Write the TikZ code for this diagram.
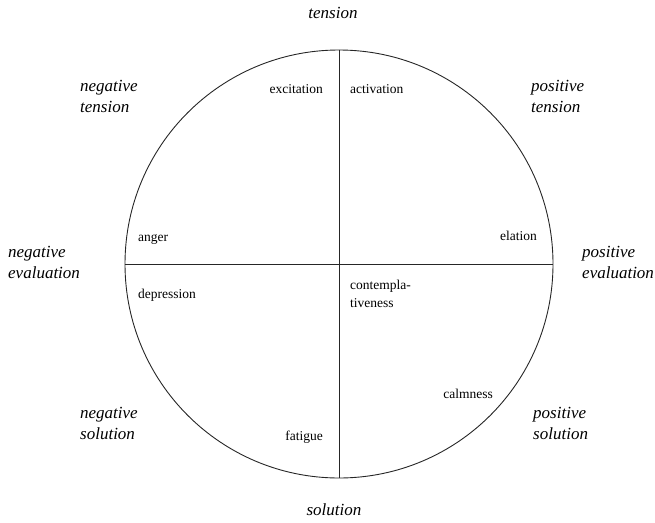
\documentclass[tikz,border=0pt]{standalone}
\usepackage{fontspec}
\setmainfont{Liberation Serif}
\usetikzlibrary{positioning}

\begin{document}
\begin{tikzpicture}[
  x=1pt, y=-1pt,
  wheel/.style  ={circle, draw=black!85, line width=0.9pt, minimum size=428pt, inner sep=0pt},
  axis/.style   ={draw=black!85, line width=0.9pt},
  pole/.style   ={font=\fontsize{17}{21}\selectfont\itshape, align=left, inner sep=0pt},
  mood/.style   ={font=\fontsize{13.5}{18}\selectfont, align=left, inner sep=0pt, text height=9.5pt, text depth=3pt}
]
\useasboundingbox (0,0) rectangle (655,522);

% ---- circle and axes ----
\node[wheel] (wheel) at (339,264) {};
\draw[axis] (wheel.north) -- (wheel.south);
\draw[axis] (wheel.west)  -- (wheel.east);

% ---- poles (outside) ----
\node[pole] (ten)  at (333,13)  {tension};
\node[pole] (sol)  at (334,510) {solution};
\node[pole, anchor=west] (negten) at (80,96)   {negative\\tension};
\node[pole, anchor=west] (posten) at (531,96)  {positive\\tension};
\node[pole, anchor=west] (negev)  at (8,262)   {negative\\evaluation};
\node[pole, anchor=west] (posev)  at (582,262) {positive\\evaluation};
\node[pole, anchor=west] (negsol) at (80,423)  {negative\\solution};
\node[pole, anchor=west] (possol) at (533,423) {positive\\solution};

% ---- moods (inside) ----
\node[mood, anchor=east] (exc)   at (323,90)  {excitation};
\node[mood, anchor=west] (act)   at (350,90)  {activation};
\node[mood, anchor=west] (ang)   at (138,238) {anger};
\node[mood, anchor=east] (ela)   at (537,237) {elation};
\node[mood, anchor=west] (dep)   at (138,295) {depression};
\node[mood, anchor=west] (con)   at (350,304) {contempla-\\tiveness};
\node[mood, anchor=east] (calm)  at (493,395) {calmness};
\node[mood, anchor=east] (fat)   at (323,437) {fatigue};

\end{tikzpicture}
\end{document}
